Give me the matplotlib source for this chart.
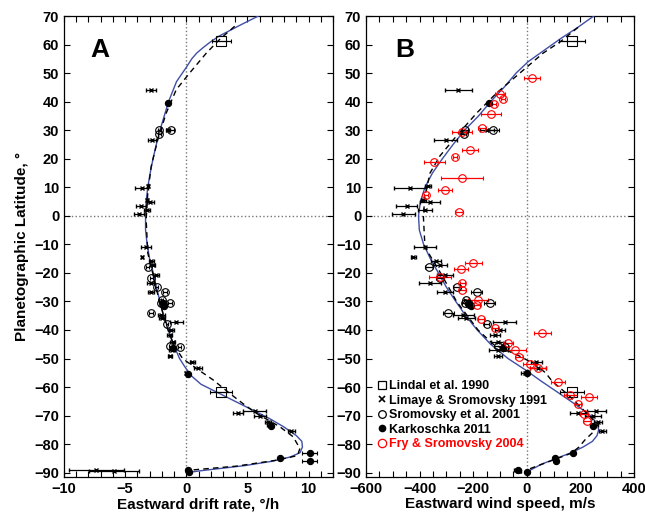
import matplotlib
matplotlib.use('Agg')
import numpy as np
import matplotlib.pyplot as plt
from matplotlib.ticker import MultipleLocator
from matplotlib.lines import Line2D

plt.rcParams['font.family'] = ['Liberation Sans', 'DejaVu Sans']
plt.rcParams['font.weight'] = 'bold'
plt.rcParams['axes.labelweight'] = 'bold'

# ---- model profiles ----
# panel B: wind speed, m/s
fit_lat_b = [70, 66, 62, 58, 54, 50, 45, 40, 35, 30, 25, 20, 15, 10, 5, 0, -5, -10, -15, -20, -25,
             -30, -35, -40, -45, -50, -54, -58, -62, -66, -70, -73, -75, -77, -79, -81, -83, -85, -87, -89, -90]
fit_u_b = [250, 190, 125, 65, 5, -40, -85, -135, -180, -232, -275, -315, -352, -380, -397, -404, -401, -385,
           -360, -330, -300, -265, -228, -185, -135, -70, -5, 55, 118, 180, 238, 264, 268, 262, 245, 210,
           165, 110, 55, 15, 0]
dash_lat_b = [66, 61, 57, 50, 43, 36, 28, 21, 15, 7, 0, -11, -20, -30, -40, -45, -49, -52, -55, -58, -63,
              -69, -72, -74, -76, -78.6, -81, -83.2, -85.6, -89]
dash_u_b = [191, 125, 61, -26, -113, -187, -262, -324, -361, -380, -386, -380, -322, -262, -182, -125, -30,
            30, 70, 95, 158, 222, 252, 256, 245, 216, 195, 165, 97, 0]
# panel A: drift rate, deg/h
fit_lat_a = [70, 67, 65, 63, 61, 59, 57, 55, 52, 47, 40, 35, 30, 25, 20, 15, 10, 5, 0, -5, -10, -15, -20,
             -25, -30, -35, -40, -45, -50, -53, -56, -59, -62, -65, -68, -71, -74, -77, -79, -81, -83,
             -84.5, -86, -87.5, -88.5, -89.3, -90]
fit_d_a = [5.9, 4.5, 3.6, 2.7, 2.0, 1.4, 0.85, 0.45, 0.0, -0.8, -1.45, -1.8, -2.15, -2.45, -2.72, -2.95,
           -3.15, -3.28, -3.33, -3.33, -3.2, -3.0, -2.7, -2.45, -2.15, -1.85, -1.45, -1.05, -0.55, -0.1,
           0.4, 1.2, 2.6, 4.0, 5.4, 6.8, 8.0, 9.0, 9.45, 9.5, 9.3, 8.5, 7.0, 4.8, 2.8, 1.2, 0.0]
dash_lat_a = [66.4, 61.8, 57, 50, 44.2, 36, 26.7, 17.3, 8, -1.4, -13, -20, -30, -40, -45, -50, -53.4, -57.5,
              -62.2, -66, -69.2, -73.9, -77.4, -81.5, -84, -85.6, -87.7, -89.1]
dash_d_a = [3.96, 2.73, 1.64, 0.27, -0.82, -1.64, -2.33, -2.87, -3.15, -3.28, -3.15, -2.75, -2.2, -1.5,
            -1.05, -0.3, 0.8, 2.2, 3.55, 4.7, 5.74, 7.65, 8.74, 9.29, 9.1, 7.4, 4.1, 0.3]

# ---- observations ----
lindal_lat = [61.2, -61.6]
lindal_u = [169, 169]
lindal_u_err = [50, 45]
lindal_d = [2.87, 2.87]
lindal_d_err = [0.78, 0.9]

limaye_lat = [44.0, 30.2, 26.4, 9.9, 10.3, 4.8, 5.6, 3.3, 2.1, 0.6, -11.0, -14.5, -16.0, -17.2, -20.7, -23.6,
              -26.6, -34.7, -35.9, -37.1, -40.0, -41.8, -44.1, -47.0, -49.1, -51.3, -53.4, -55.2, -68.3,
              -69.0, -70.2, -72.2, -73.3, -75.4, -89.0, -89.4]
limaye_u = [-256, -148, -303, -436, -368, -361, -386, -448, -380, -461, -380, -423, -339, -324, -305, -361,
            -305, -237, -225, -82, -100, -119, -107, -107, -107, 36, 42, -7, 260, 191, 247, 266, 250, 282,
            -38, -30]
limaye_u_err = [50, 25, 43, 59, 10, 37, 10, 40, 25, 43, 40, 10, 20, 25, 30, 40, 30, 40, 30, 43, 20, 20, 25,
                35, 15, 20, 30, 15, 37, 30, 30, 15, 15, 12, 10, 10]
limaye_d = [-2.87, -1.5, -2.79, -3.66, -3.15, -2.95, -3.2, -3.69, -3.23, -3.89, -3.28, -3.61, -2.87, -2.74,
            -2.46, -2.9, -2.87, -2.05, -1.95, -0.82, -1.23, -1.35, -1.1, -1.2, -1.31, 0.49, 0.95, 0.0, 5.6,
            4.23, 6.0, 6.69, 6.83, 8.6, -7.38, -5.88]
limaye_d_err = [0.41, 0.15, 0.3, 0.52, 0.1, 0.3, 0.1, 0.4, 0.25, 0.4, 0.4, 0.1, 0.2, 0.2, 0.25, 0.3, 0.25,
                0.3, 0.25, 0.55, 0.2, 0.2, 0.2, 0.25, 0.15, 0.2, 0.3, 0.1, 0.96, 0.4, 0.5, 0.25, 0.2, 0.3,
                2.25, 2.05]

sromo_lat = [30.2, 30.2, 28.7, -18.0, -21.9, -24.8, -26.6, -30.4, -30.4, -33.9, -37.9, -45.6, -45.9, -29.5,
             -31.0]
sromo_u = [-125, -231, -236, -365, -324, -262, -187, -138, -231, -293, -150, -107, -82, -225, -215]
sromo_u_err = [20, 10, 10, 15, 15, 15, 20, 20, 10, 20, 10, 15, 10, 10, 10]
sromo_d = [-1.23, -2.19, -2.19, -3.15, -2.87, -2.4, -1.72, -1.31, -2.05, -2.87, -1.59, -1.31, -0.55, -2.0,
           -1.9]
sromo_d_err = [0.2, 0.1, 0.1, 0.12, 0.12, 0.12, 0.15, 0.15, 0.1, 0.15, 0.1, 0.12, 0.1, 0.1, 0.1]

kark_lat = [39.5, -30.6, -31.6, -46.4, -55.2, -73.7, -83.0, -85.0, -85.9, -89.1, -89.6]
kark_u = [-142, -219, -210, -88, -1, 247, 172, 104, 110, -32, 2]
kark_u_err = [5, 5, 5, 5, 5, 5, 8, 8, 8, 5, 5]
kark_lat_a = [39.5, -30.6, -31.6, -46.4, -55.4, -73.7, -83.0, -85.0, -86.0, -89.2, -89.6]
kark_d = [-1.5, -1.91, -1.85, -1.1, 0.14, 6.9, 10.1, 7.65, 10.1, 0.14, 0.2]
kark_d_err = [0.05, 0.05, 0.05, 0.05, 0.05, 0.1, 0.6, 0.1, 0.6, 0.1, 0.1]

fry_lat = [48.3, 42.5, 41.0, 39.0, 35.7, 30.8, 29.4, 22.9, 20.6, 18.8, 13.2, 9.1, 7.4, 1.3, -16.6, -18.7,
           -21.5, -23.4, -26.0, -29.5, -31.2, -36.3, -39.4, -40.9, -44.7, -47.0, -49.4, -51.8, -53.4, -58.1,
           -62.6, -63.6, -66.0, -69.3, -71.8]
fry_u = [20, -100, -88, -122, -134, -166, -243, -212, -268, -345, -241, -305, -377, -253, -200, -246, -324,
         -240, -240, -181, -187, -171, -119, 58, -70, -45, -29, 11, 42, 117, 163, 232, 191, 213, 225]
fry_u_err = [31, 20, 8, 8, 37, 15, 37, 31, 8, 40, 78, 25, 8, 15, 31, 25, 40, 8, 12, 37, 12, 12, 12, 31, 20,
             43, 15, 25, 30, 25, 25, 30, 12, 15, 15]

BLUE = '#3f4fa6'
ZERO = '#777777'


def draw_points(ax, x, y, xerr, marker, color='k', ms=5, mfc='none', mew=0.8):
    ax.errorbar(x, y, xerr=xerr, fmt=marker, color=color, ecolor=color, ms=ms, mfc=mfc, mec=color,
                mew=mew, elinewidth=0.9, capsize=1.2, capthick=0.8, zorder=4)


def style_axis(ax, xmaj, xmin):
    ax.set_ylim(-91.5, 70)
    ax.yaxis.set_major_locator(MultipleLocator(10))
    ax.xaxis.set_major_locator(MultipleLocator(xmaj))
    ax.xaxis.set_minor_locator(MultipleLocator(xmin))
    ax.tick_params(which='both', direction='in', top=True, right=True, length=4, width=0.8,
                   labelsize=10.5)
    ax.tick_params(axis='y', which='minor', left=False, right=False)
    for lab in ax.get_xticklabels() + ax.get_yticklabels():
        lab.set_fontweight('bold')
    ax.axvline(0, color=ZERO, ls=':', lw=1, zorder=1)
    ax.axhline(0, color=ZERO, ls=':', lw=1, zorder=1)
    for sp in ax.spines.values():
        sp.set_linewidth(0.9)


fig = plt.figure(figsize=(6.45, 5.12), dpi=100)
ax_a = fig.add_axes([64 / 645, 35 / 512, 269 / 645, 461 / 512])
ax_b = fig.add_axes([366 / 645, 35 / 512, 268 / 645, 461 / 512])

# panel A
ax_a.plot(fit_d_a, fit_lat_a, color=BLUE, lw=1.0, zorder=3)
ax_a.plot(dash_d_a, dash_lat_a, color='k', lw=1.0, ls=(0, (4, 3)), zorder=3)
draw_points(ax_a, lindal_d, lindal_lat, lindal_d_err, 's', ms=6.5)
draw_points(ax_a, limaye_d, limaye_lat, limaye_d_err, 'x', ms=3, mew=1.0)
draw_points(ax_a, sromo_d, sromo_lat, sromo_d_err, 'o', ms=5.5)
draw_points(ax_a, kark_d, kark_lat_a, kark_d_err, 'o', ms=4.5, mfc='k')
ax_a.set_xlim(-10, 12)
style_axis(ax_a, 5, 1)
ax_a.set_xlabel('Eastward drift rate, °/h', fontsize=11, labelpad=1)
ax_a.set_ylabel('Planetographic Latitude, °', fontsize=11, labelpad=4)
ax_a.text(0.097, 0.912, 'A', transform=ax_a.transAxes, fontsize=19, fontweight='bold')

# panel B
ax_b.plot(fit_u_b, fit_lat_b, color=BLUE, lw=1.0, zorder=3)
ax_b.plot(dash_u_b, dash_lat_b, color='k', lw=1.0, ls=(0, (4, 3)), zorder=3)
draw_points(ax_b, lindal_u, lindal_lat, lindal_u_err, 's', ms=6.5)
draw_points(ax_b, limaye_u, limaye_lat, limaye_u_err, 'x', ms=3, mew=1.0)
draw_points(ax_b, sromo_u, sromo_lat, sromo_u_err, 'o', ms=5.5)
draw_points(ax_b, kark_u, kark_lat, kark_u_err, 'o', ms=4.5, mfc='k')
draw_points(ax_b, fry_u, fry_lat, fry_u_err, 'o', color='red', ms=5.5)
ax_b.set_xlim(-600, 400)
style_axis(ax_b, 200, 50)
ax_b.set_xlabel('Eastward wind speed, m/s', fontsize=11, labelpad=1)
ax_b.text(0.108, 0.912, 'B', transform=ax_b.transAxes, fontsize=19, fontweight='bold')

handles = [
    Line2D([], [], ls='none', marker='s', ms=6, mfc='none', mec='k', mew=0.9),
    Line2D([], [], ls='none', marker='x', ms=5, mec='k', mew=1.2),
    Line2D([], [], ls='none', marker='o', ms=5.5, mfc='none', mec='k', mew=0.9),
    Line2D([], [], ls='none', marker='o', ms=4.5, mfc='k', mec='k'),
    Line2D([], [], ls='none', marker='o', ms=6, mfc='none', mec='red', mew=0.9),
]
labels = ['Lindal et al. 1990', 'Limaye & Sromovsky 1991', 'Sromovsky et al. 2001',
          'Karkoschka 2011', 'Fry & Sromovsky 2004']
leg = ax_b.legend(handles, labels, loc='lower left', bbox_to_anchor=(0.02, 0.045), frameon=False,
                  borderpad=0, handlelength=0.7, handletextpad=0.2, labelspacing=0.2,
                  prop={'weight': 'bold', 'size': 9},
                  labelcolor=['k', 'k', 'k', 'k', 'red'])

fig.savefig('out.png', dpi=100)
